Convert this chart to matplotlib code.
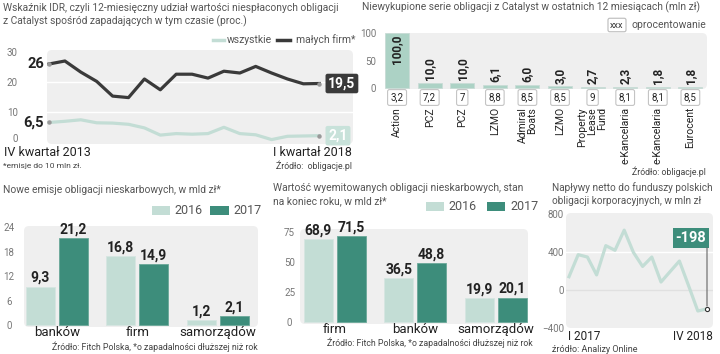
# -*- coding: utf-8 -*-
import matplotlib
matplotlib.use('Agg')
import matplotlib.pyplot as plt
from matplotlib.patches import FancyBboxPatch, Rectangle
from matplotlib.lines import Line2D

W, H = 720, 354
plt.rcParams['font.family'] = ['Roboto', 'DejaVu Sans']

# --- data ---
# IDR, kwartalnie IV 2013 .. I 2018
idr_all = [6.5, 6.9, 7.4, 6.4, 6.3, 5.9, 4.7, 2.3, 2.8, 2.6, 2.8, 4.9, 2.8, 2.4, 0.8, 1.9, 2.0, 2.1]
idr_small = [26, 27, 23.3, 20.2, 15.3, 14.8, 21, 17.4, 22.6, 22.6, 21.3, 23.6, 23, 25.2, 23, 21, 19.4, 19.5]

issuers = ['Action', 'PCZ', 'PCZ', 'LZMO', 'Admiral\nBoats', 'LZMO',
           'Property\nLease\nFund', 'e-Kancelaria', 'e-Kancelaria', 'Eurocent']
unpaid = [100.0, 10.0, 10.0, 6.1, 6.0, 3.0, 2.7, 2.3, 1.8, 1.8]
coupon = ['3,2', '7,2', '7', '8,8', '8,5', '8,5', '9', '8,1', '8,1', '8,5']

groups_new = ['banków', 'firm', 'samorządów']
new_2016 = [9.3, 16.8, 1.2]
new_2017 = [21.2, 14.9, 2.1]

groups_out = ['firm', 'banków', 'samorządów']
out_2016 = [68.9, 36.5, 19.9]
out_2017 = [71.5, 48.8, 20.1]

inflows = [140, 372, 347, 159, 467, 418, 630, 396, 248, 347, 84, 195, 305, 45, -221, -198]

LIGHT = '#c3ddd5'
TEAL = '#3d8d7b'
DARK = '#3a3a3a'
BG = '#efefef'
GREY = '#555555'
TFS = 7.4   # titles

fig = plt.figure(figsize=(W / 100, H / 100), dpi=100)


def axes_px(l, t, w, h):
    ax = fig.add_axes([l / W, 1 - (t + h) / H, w / W, h / H])
    ax.set_facecolor('none')
    for s in ax.spines.values():
        s.set_visible(False)
    ax.tick_params(length=0, labelsize=7, labelcolor='#777777')
    ax.set_xticks([])
    return ax


def txt(x, y, s, **kw):
    kw.setdefault('va', 'center')
    return fig.text(x / W, 1 - y / H, s, **kw)


def panel_bg(l, t, w, h, r=0.05):
    p = FancyBboxPatch((l / 100, (H - t - h) / 100), w / 100, h / 100,
                       boxstyle='round,pad=0,rounding_size=%g' % r,
                       transform=fig.dpi_scale_trans, fc=BG, ec='none', zorder=-1)
    fig.add_artist(p)


def rect_px(l, t, w, h, color):
    fig.add_artist(Rectangle((l / 100, (H - t - h) / 100), w / 100, h / 100,
                             transform=fig.dpi_scale_trans, fc=color, ec='none'))


def num(v):
    return ('%.1f' % v).replace('.', ',')


# ---------------- panel 1: IDR ----------------
txt(3, 8, 'Wskaźnik IDR, czyli 12-miesięczny udział wartości niespłaconych obligacji',
    fontsize=TFS, color=GREY)
txt(3, 21, 'z Catalyst spośród zapadających w tym czasie (proc.)', fontsize=TFS, color=GREY)
fig.add_artist(Line2D([213 / W, 224 / W], [1 - 40 / H] * 2, color=LIGHT, lw=2.5))
txt(227, 40, 'wszystkie', fontsize=7.5, color=GREY)
fig.add_artist(Line2D([277 / W, 290 / W], [1 - 40 / H] * 2, color=DARK, lw=2.5))
txt(296, 40, 'małych firm*', fontsize=7.5, color=GREY)

panel_bg(47, 50, 306, 94)
ax1 = axes_px(47, 50, 306, 94)
xs = range(len(idr_small))
ax1.set_xlim(-0.126, 19.12)
ax1.set_ylim(-0.67, 30.67)
ax1.set_yticks([0, 10, 20, 30])
ax1.tick_params(axis='y', pad=21)
ax1.get_yticklabels()[0].set_verticalalignment('baseline')
for g in (10, 20):
    ax1.axhline(g, color='white', lw=1, zorder=0)
ax1.plot(xs, idr_all, color=LIGHT, lw=2.3, zorder=2)
ax1.plot(xs, idr_small, color=DARK, lw=2.3, zorder=3)
for ser in (idr_all, idr_small):
    ax1.plot([0, len(ser) - 1], [ser[0], ser[-1]], 'o', ms=2.2, color='#999999', zorder=4)
ax1.annotate('26', (0, idr_small[0]), xytext=(-5, 0), textcoords='offset pixels',
             ha='right', va='center', fontsize=10.5, fontweight='bold', color='#222222')
ax1.annotate('6,5', (0, idr_all[0]), xytext=(-5, 0), textcoords='offset pixels',
             ha='right', va='center', fontsize=10.5, fontweight='bold', color='#222222')
ax1.annotate(num(idr_small[-1]), (len(idr_small) - 1, idr_small[-1]), xytext=(9, 0),
             textcoords='offset pixels', ha='left', va='center', fontsize=10,
             fontweight='bold', color='white',
             bbox=dict(boxstyle='round,pad=0.2,rounding_size=0.15', fc=DARK, ec='none'))
ax1.annotate(num(idr_all[-1]), (len(idr_all) - 1, idr_all[-1]), xytext=(9, 0),
             textcoords='offset pixels', ha='left', va='center', fontsize=10,
             fontweight='bold', color='white',
             bbox=dict(boxstyle='round,pad=0.2,rounding_size=0.15', fc='#c8e2da', ec='none'))
txt(4, 153, 'IV kwartał 2013', fontsize=9, color='#222222')
txt(352, 153, 'I kwartał 2018', fontsize=9, color='#222222', ha='right')
txt(3, 166, '*emisje do 10 mln zł.', fontsize=6, color='#444444')
txt(352, 166, 'Źródło:  obligacje.pl', fontsize=6.3, color='#444444', ha='right')

# ---------------- panel 2: niewykupione serie ----------------
txt(362, 7, 'Niewykupione serie obligacji z Catalyst w ostatnich 12 miesiącach (mln zł)',
    fontsize=TFS, color=GREY)
txt(617, 25, 'xxx', fontsize=6.5, color='#333333', ha='center',
    bbox=dict(boxstyle='round,pad=0.25,rounding_size=0.2', fc='white', ec='#bbbbbb', lw=0.8))
txt(632, 25, 'oprocentowanie', fontsize=7.5, color=GREY)

panel_bg(385, 33, 322, 56)
ax2 = axes_px(385, 33, 322, 56)
x2 = range(len(unpaid))
ax2.set_xlim(-0.37, 9.51)
ax2.set_ylim(-1.8, 100)
ax2.set_yticks([0, 50, 100])
ax2.tick_params(axis='y', pad=6.5)
ax2.bar(x2, unpaid, width=0.74, color='#acd2c5', edgecolor='#c9dcd6', lw=0.6)
for i, v in enumerate(unpaid):
    if v > 50:
        ax2.text(i, v - 3, num(v), rotation=90, ha='center', va='top',
                 fontsize=8.5, fontweight='bold', color='#222222')
    else:
        ax2.text(i, v + 5, num(v), rotation=90, ha='center', va='bottom',
                 fontsize=8.5, fontweight='bold', color='#222222')
    ax2.annotate(coupon[i], (i, 0), xytext=(0, -9.5), textcoords='offset pixels',
                 ha='center', va='center', fontsize=7, color='#222222',
                 bbox=dict(boxstyle='round,pad=0.3,rounding_size=0.2', fc='white',
                           ec='#c4c4c4', lw=0.8))
    ax2.annotate(issuers[i], (i, 0), xytext=(0, -19), textcoords='offset pixels',
                 rotation=90, ha='center', va='top', multialignment='right',
                 fontsize=7.5, color='#222222', linespacing=1.0)
txt(706, 172, 'Źródło: obligacje.pl', fontsize=6.3, color='#444444', ha='right')


# ---------------- panels 3 and 4: grouped bars ----------------
def grouped(ax, cats, a, b, fs_val=10):
    xs = range(len(cats))
    ax.bar([x - 0.205 for x in xs], a, width=0.36, color=LIGHT, edgecolor='#d6e6e1', lw=0.6)
    ax.bar([x + 0.205 for x in xs], b, width=0.36, color=TEAL, edgecolor='#6aa899', lw=0.6)
    for x, v in zip(xs, a):
        ax.annotate(num(v), (x - 0.205, v), xytext=(0, 2), textcoords='offset pixels',
                    ha='center', va='bottom', fontsize=fs_val, fontweight='bold', color='#222222')
    for x, v in zip(xs, b):
        ax.annotate(num(v), (x + 0.205, v), xytext=(0, 2), textcoords='offset pixels',
                    ha='center', va='bottom', fontsize=fs_val, fontweight='bold', color='#222222')
    for x, c in zip(xs, cats):
        ax.annotate(c, (x, 0), xytext=(0, -8), textcoords='offset pixels',
                    ha='center', va='center', fontsize=9.5, color='#222222')
    for lab in ax.get_yticklabels():
        lab.set_horizontalalignment('center')


txt(3, 190, 'Nowe emisje obligacji nieskarbowych, w mld zł*', fontsize=TFS, color=GREY)
rect_px(152, 206, 18, 9, LIGHT)
txt(174, 210.5, '2016', fontsize=9, color=GREY)
rect_px(210, 206, 19, 9, TEAL)
txt(233, 210.5, '2017', fontsize=9, color=GREY)
panel_bg(24, 226, 234, 101)
ax3 = axes_px(24, 226, 234, 101)
ax3.set_xlim(-0.41, 2.5)
ax3.set_ylim(-0.49, 24.25)
ax3.set_yticks([0, 6, 12, 18, 24])
ax3.tick_params(axis='y', pad=11)
grouped(ax3, groups_new, new_2016, new_2017)
txt(258, 347, 'Źródło: Fitch Polska, *o zapadalności dłuższej niż rok', fontsize=6.3,
    color='#444444', ha='right')

txt(273, 188, 'Wartość wyemitowanych obligacji nieskarbowych, stan', fontsize=TFS, color=GREY)
txt(273, 201, 'na koniec roku, w mld zł*', fontsize=TFS, color=GREY)
rect_px(426, 202, 18, 9, LIGHT)
txt(448, 206.5, '2016', fontsize=9, color=GREY)
rect_px(487, 202, 18, 9, TEAL)
txt(510, 206.5, '2017', fontsize=9, color=GREY)
panel_bg(300, 229, 228, 95)
ax4 = axes_px(300, 229, 228, 95)
ax4.set_xlim(-0.43, 2.4)
ax4.set_ylim(-1.67, 77.5)
ax4.set_yticks([0, 25, 50, 75])
ax4.tick_params(axis='y', pad=7.5)
grouped(ax4, groups_out, out_2016, out_2017)
txt(533, 343, 'Źródło: Fitch Polska, *o zapadalności dłuższej niż rok', fontsize=6.3,
    color='#444444', ha='right')

# ---------------- panel 5: napływy netto ----------------
txt(552, 188, 'Napływy netto do funduszy polskich', fontsize=7.2, color=GREY)
txt(552, 201, 'obligacji korporacyjnych, w mln zł', fontsize=7.2, color=GREY)
panel_bg(566, 213, 147, 115)
ax5 = axes_px(566, 213, 147, 115)
x5 = range(len(inflows))
step = (707 - 569) / (len(inflows) - 1)
ax5.set_xlim(-(569 - 566) / step, len(inflows) - 1 + (713 - 707) / step)
ax5.set_ylim((290 - 328) / 0.095, (290 - 213) / 0.095)
ax5.set_yticks([-400, 0, 400, 800])
ax5.tick_params(axis='y', pad=1.5)
for g in (0, 400):
    ax5.axhline(g, color='#e0e0e0' if g == 0 else 'white', lw=1, zorder=0)
ax5.plot(x5, inflows, color=LIGHT, lw=2.3, zorder=2)
ax5.plot(len(inflows) - 1, inflows[-1], 'o', ms=3, mfc='white', mec='#333333', mew=0.8, zorder=4)
ax5.annotate('%d' % inflows[-1], (len(inflows) - 1, inflows[-1]), xytext=(-16, 71),
             textcoords='offset pixels', ha='center', va='center', fontsize=10.5,
             fontweight='bold', color='white', annotation_clip=False,
             bbox=dict(boxstyle='square,pad=0.2', fc=TEAL, ec='none'))
ax5.annotate('', (len(inflows) - 1, inflows[-1]), xytext=(0, 61),
             textcoords='offset pixels', annotation_clip=False,
             arrowprops=dict(arrowstyle='-', color='#666666', lw=0.8, shrinkA=0, shrinkB=2))
txt(568, 336, 'I 2017', fontsize=8.5, color='#222222')
txt(713, 336, 'IV 2018', fontsize=8.5, color='#222222', ha='right')
txt(552, 350, 'źródło: Analizy Online', fontsize=6.5, color='#444444')

fig.savefig('out.png', dpi=100)
